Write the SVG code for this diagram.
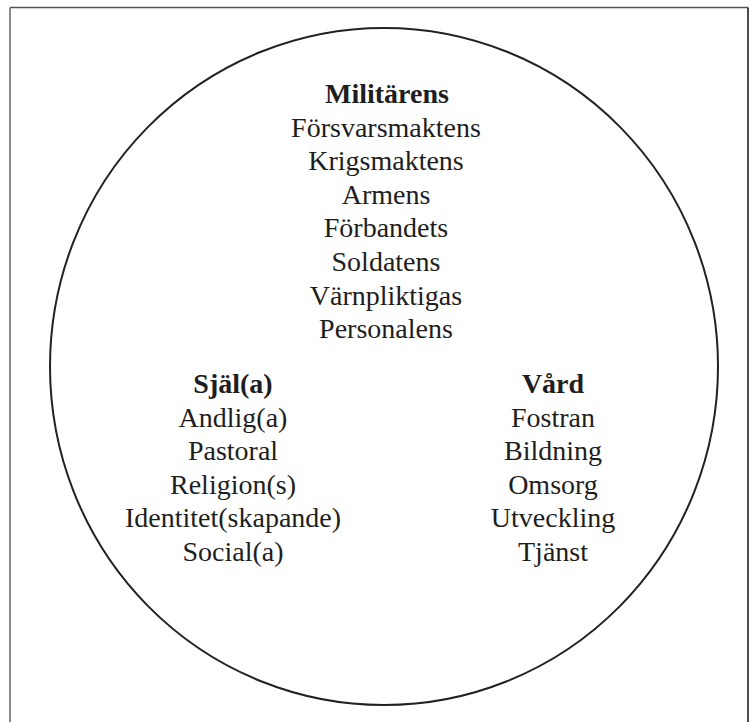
<svg xmlns="http://www.w3.org/2000/svg" width="753" height="722" viewBox="0 0 753 722">
<style>
text{font-family:"Liberation Serif","Times New Roman",serif;font-size:28px;fill:#1e1e1e;text-anchor:middle}
.h{font-weight:bold}
.frame{fill:none;stroke-width:1.5}
</style>
<rect x="0" y="0" width="753" height="722" fill="#fff"/>
<g id="frame">
<line class="frame" x1="10" y1="7.5" x2="748" y2="7.5" stroke="#555"/>
<line class="frame" x1="10" y1="7.5" x2="10" y2="722" stroke="#666"/>
<line class="frame" x1="748" y1="7.5" x2="748" y2="722" stroke="#111"/>
</g>
<g id="circle"><ellipse cx="384" cy="366.5" rx="334" ry="338.5" fill="none" stroke="#222" stroke-width="2"/></g>
<g id="militarens">
<text class="h" x="387" y="103">Militärens</text>
<text x="386" y="136.6">Försvarsmaktens</text>
<text x="386" y="170.2">Krigsmaktens</text>
<text x="386" y="203.8">Armens</text>
<text x="386" y="237.4">Förbandets</text>
<text x="386" y="271">Soldatens</text>
<text x="386" y="304.6">Värnpliktigas</text>
<text x="386" y="338">Personalens</text>
</g>
<g id="sjal">
<text class="h" x="233" y="393">Själ(a)</text>
<text x="233" y="426.6">Andlig(a)</text>
<text x="233" y="460.2">Pastoral</text>
<text x="233" y="493.8">Religion(s)</text>
<text x="233" y="527.4">Identitet(skapande)</text>
<text x="233" y="561">Social(a)</text>
</g>
<g id="vard">
<text class="h" x="553" y="393">Vård</text>
<text x="553" y="426.6">Fostran</text>
<text x="553" y="460.2">Bildning</text>
<text x="553" y="493.8">Omsorg</text>
<text x="553" y="527.4">Utveckling</text>
<text x="553" y="561">Tjänst</text>
</g>
<g id="connectors"/>
</svg>
